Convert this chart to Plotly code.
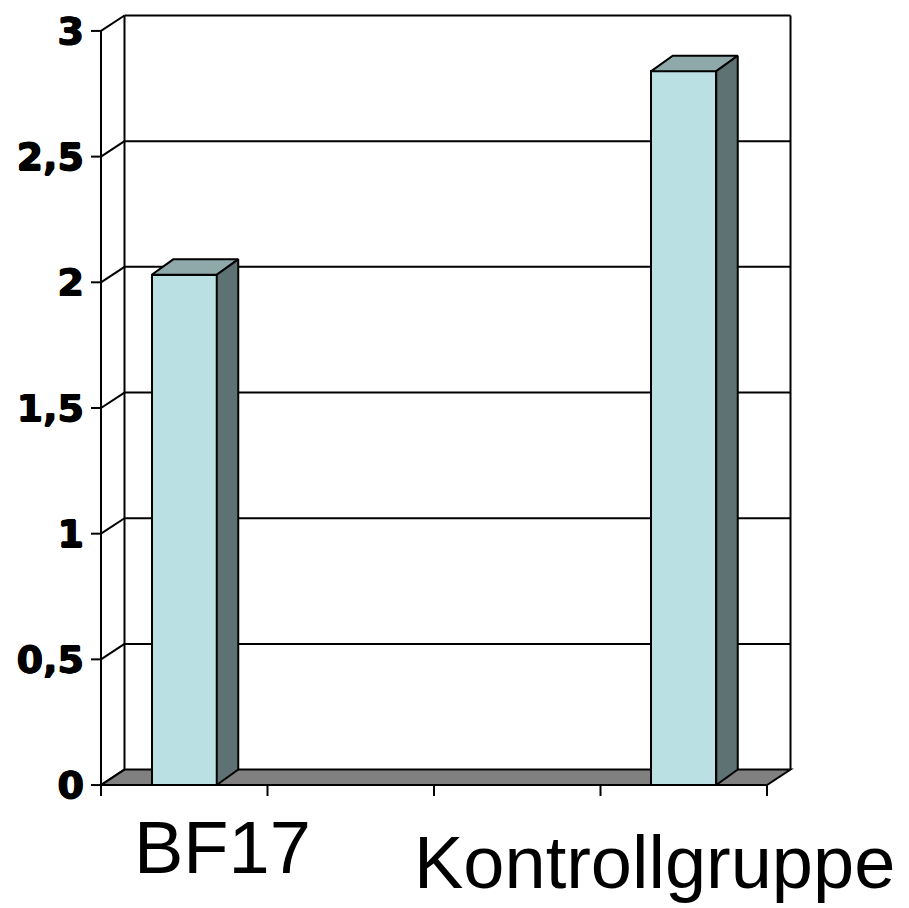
import plotly.graph_objects as go

# ---------------- data ----------------
categories = ["BF17", "", "", "Kontrollgruppe"]
values = [2.03, None, None, 2.84]
y_ticks = [0, 0.5, 1, 1.5, 2, 2.5, 3]

# ---------------- style / geometry ----------------
W, H = 909, 908
M_L, M_R, M_T, M_B = 91, 114, 9, 110
PX_PER_X = 166.5          # pixels per category slot
PX_PER_Y = 252.33         # pixels per value unit
X_LO = -0.5 - 10 / PX_PER_X
X_HI = X_LO + (W - M_L - M_R) / PX_PER_X
Y_LO = -13 / PX_PER_Y
Y_HI = Y_LO + (H - M_T - M_B) / PX_PER_Y

FLOOR_DX = 23.5 / PX_PER_X
DEPTH_DY = 15.5 / PX_PER_Y
BAR_DX = 21.5 / PX_PER_X
BAR_W = 65 / PX_PER_X
TICK_X = 10 / PX_PER_X
TICK_Y = 11 / PX_PER_Y

C_FRONT = "#BBE0E3"
C_TOP = "#8FA9AB"
C_SIDE = "#5E7173"
C_FLOOR = "#808080"
LW = 2

n = len(categories)
x_left = -0.5
x_right = n - 0.5
y_max = max(y_ticks)

shapes = []
line = dict(color="black", width=LW)

# back wall grid lines
for v in y_ticks[1:]:
    shapes.append(dict(type="line", layer="below", xref="x", yref="y",
                       x0=x_left + FLOOR_DX, x1=x_right + FLOOR_DX,
                       y0=v + DEPTH_DY, y1=v + DEPTH_DY, line=line))
# left wall diagonals
for v in y_ticks:
    shapes.append(dict(type="line", layer="below", xref="x", yref="y",
                       x0=x_left, x1=x_left + FLOOR_DX,
                       y0=v, y1=v + DEPTH_DY, line=line))
# back verticals
for xx in (x_left + FLOOR_DX, x_right + FLOOR_DX):
    shapes.append(dict(type="line", layer="below", xref="x", yref="y",
                       x0=xx, x1=xx, y0=DEPTH_DY, y1=y_max + DEPTH_DY, line=line))
# floor
shapes.append(dict(type="path", layer="below", xref="x", yref="y",
                   path=f"M {x_left},0 L {x_right},0 L {x_right + FLOOR_DX},{DEPTH_DY} "
                        f"L {x_left + FLOOR_DX},{DEPTH_DY} Z",
                   fillcolor=C_FLOOR, line=line))
# front value axis line and ticks
shapes.append(dict(type="line", layer="below", xref="x", yref="y",
                   x0=x_left, x1=x_left, y0=0, y1=y_max, line=line))
for v in y_ticks:
    shapes.append(dict(type="line", layer="below", xref="x", yref="y",
                       x0=x_left - TICK_X, x1=x_left, y0=v, y1=v, line=line))
# category axis ticks
for k in range(n + 1):
    xx = x_left + k
    shapes.append(dict(type="line", layer="below", xref="x", yref="y",
                       x0=xx, x1=xx, y0=0, y1=-TICK_Y, line=line))

fig = go.Figure()

bx = [i for i, v in enumerate(values) if v is not None]
by = [v for v in values if v is not None]

fig.add_trace(go.Bar(x=bx, y=by, width=BAR_W, marker=dict(color=C_FRONT, line=dict(color="black", width=LW)),
                     hoverinfo="skip", showlegend=False))

for i, v in zip(bx, by):
    l, r = i - BAR_W / 2, i + BAR_W / 2
    # top face
    fig.add_trace(go.Scatter(
        x=[l, r, r + BAR_DX, l + BAR_DX, l],
        y=[v, v, v + DEPTH_DY, v + DEPTH_DY, v],
        mode="lines", fill="toself", fillcolor=C_TOP,
        line=dict(color="black", width=LW), hoverinfo="skip", showlegend=False))
    # side face
    fig.add_trace(go.Scatter(
        x=[r, r, r + BAR_DX, r + BAR_DX, r],
        y=[0, v, v + DEPTH_DY, DEPTH_DY, 0],
        mode="lines", fill="toself", fillcolor=C_SIDE,
        line=dict(color="black", width=LW), hoverinfo="skip", showlegend=False))

annotations = []
label_shift = {0: (38, -62), 3: (-29, -77)}
for i, name in enumerate(categories):
    if not name:
        continue
    dx, dy = label_shift[i]
    annotations.append(dict(x=i, y=0, xref="x", yref="y", text=name, showarrow=False,
                            xanchor="center", yanchor="middle", xshift=dx, yshift=dy,
                            font=dict(family="Liberation Sans, Arial, sans-serif", size=74, color="black")))

fig.update_layout(
    width=W, height=H,
    margin=dict(l=M_L, r=M_R, t=M_T, b=M_B, pad=0),
    paper_bgcolor="white", plot_bgcolor="white",
    separators=",.",
    shapes=shapes, annotations=annotations,
    bargap=0,
    xaxis=dict(range=[X_LO, X_HI], showgrid=False, zeroline=False, showline=False,
               showticklabels=False, ticks="", fixedrange=True),
    yaxis=dict(range=[Y_LO, Y_HI], showgrid=False, zeroline=False, showline=False,
               tickmode="array", tickvals=y_ticks, ticks="", ticklabelstandoff=6,
               tickfont=dict(family="DejaVu Sans", size=38, color="black", weight="bold",
                             shadow="0.7px 0 0 black, -0.7px 0 0 black, 0 0.7px 0 black, 0 -0.7px 0 black"),
               fixedrange=True),
)

fig.write_html("out.html", config={"displayModeBar": False},
               post_script="document.body.style.margin='0';document.body.style.overflow='hidden';")
